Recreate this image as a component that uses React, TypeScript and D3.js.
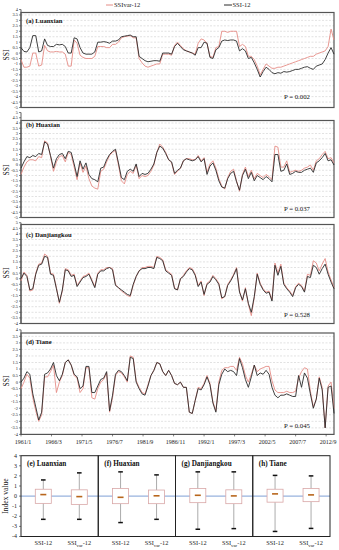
import React from "react";
import * as d3 from "d3";

// ---------- DATA ----------
// Series sampled every 6 months from 1961/1 (index i -> month 6*i)
const STEP_MONTHS = 6;
const TOTAL_MONTHS = 636;

const xTickLabels = ["1961/1", "1966/3", "1971/5", "1976/7", "1981/9", "1986/11", "1992/1", "1997/3", "2002/5", "2007/7", "2012/9"];
const xTickMonths = [0, 62, 124, 186, 248, 310, 372, 434, 496, 558, 620];

const stationNames = ["(a) Luanxian", "(b) Huaxian", "(c) Danjiangkou", "(d) Tiane"];
const pValues = ["P = 0.002", "P = 0.037", "P = 0.528", "P = 0.045"];
const yDomains: [number, number][] = [[-5, 4], [-5, 5], [-4, 5], [-4, 4]];

const luanxianSSI = [0.5, 0.15, 0.1, 0.5, 1.6, 1.6, 0.1, 0.2, 1.3, 0.7, 0.6, 0.6, 0.8, 0.75, 0.8, 0.6, 0.0, 0.0, 1.4, 1.3, 0.5, 0.0, -0.1, -0.1, -0.1, 0.1, 1.0, 1.0, 1.05, 1.0, 0.9, 1.1, 1.1, 1.2, 1.5, 1.55, 1.6, 1.65, 1.5, 1.5, -0.3, -0.5, -0.7, -0.8, -0.75, -0.7, -0.7, -0.75, 0.0, 0.0, 0.0, -0.1, 0.6, 0.9, 0.6, 0.3, 0.2, 0.1, 0.0, -0.2, 0.5, 0.5, 1.0, 0.9, -0.4, -0.5, 0.3, 0.5, 1.1, 1.2, 1.15, 1.2, 1.2, 1.1, 0.2, 0.4, 0.2, -0.5, -0.4, -0.9, -1.5, -2.2, -1.7, -1.3, -1.5, -1.8, -1.9, -1.8, -1.85, -1.7, -1.75, -1.7, -1.6, -1.5, -1.5, -1.4, -1.3, -1.25, -1.4, -1.5, -1.2, -1.1, -1.0, -0.6, 0.0, 0.5, -0.1];
const luanxianSSIvar = [-0.6, -1.3, -1.3, -1.2, 0.0, 0.0, -1.2, -1.1, 0.7, 0.2, 0.1, 0.1, 0.15, 0.1, 0.1, -0.1, -1.2, -1.2, 1.2, 0.9, -0.2, -0.4, -0.5, -0.5, -0.5, -0.3, 0.6, 0.6, 0.6, 0.5, 0.5, 0.8, 0.8, 1.0, 1.4, 1.5, 1.55, 1.6, 1.4, 1.4, -0.5, -0.9, -1.2, -1.3, -1.2, -1.1, -1.0, -1.0, -0.1, -0.1, -0.1, -0.2, 0.7, 1.0, 0.7, 0.4, 0.2, 0.1, 0.0, -0.1, 0.9, 1.3, 1.2, 0.9, -0.3, -0.4, 0.5, 0.6, 2.0, 2.0, 1.9, 2.0, 2.0, 2.0, 0.6, 0.8, 0.6, -0.3, -0.3, -0.6, -1.2, -2.0, -1.5, -1.0, -1.2, -1.4, -1.4, -1.3, -1.3, -1.2, -1.1, -1.0, -0.9, -0.8, -0.7, -0.6, -0.5, -0.4, -0.3, -0.3, -0.1, 0.0, 0.1, 0.2, 0.6, 2.2, 1.2];

const huaxianSSI = [-0.3, 0.3, 0.8, 0.7, 0.9, 0.8, 1.1, 1.0, 2.2, 2.0, 0.9, -0.3, 0.6, 1.0, 1.1, 0.6, 1.3, 1.2, 0.1, -1.1, 0.4, -0.4, 0.2, -0.9, -1.3, -1.4, -1.6, -0.3, -0.2, 0.5, 1.0, 1.3, 1.5, 0.2, -1.2, -1.4, -0.6, -0.4, -0.6, 0.1, -1.1, -0.8, -0.9, -0.8, -0.4, 0.1, 1.2, 1.8, 1.6, 1.1, 0.5, 0.3, -0.8, -0.5, -0.3, 0.4, 0.6, 0.5, 0.4, 0.5, 0.8, 0.3, 0.6, -0.9, -0.1, 0.2, -0.5, -1.5, -2.1, -2.2, -1.3, -0.8, -0.6, -1.6, -2.4, -1.0, -0.4, -1.3, -0.7, -1.5, -1.0, -1.2, -1.4, -1.1, -1.3, -1.6, 1.0, 1.0, -0.6, -0.5, 0.1, -0.9, -0.8, -0.6, -0.7, -0.7, -0.5, -0.4, -0.3, -0.7, 0.2, 0.4, 0.7, 1.1, 0.4, 0.5, 0.0];
const huaxianSSIvar = [-0.9, -0.2, 0.3, 0.5, 0.5, 0.4, 0.8, 0.7, 2.3, 2.1, 0.8, -0.6, 0.3, 0.8, 0.9, 0.3, 1.2, 1.0, -0.2, -1.4, 0.2, -0.7, -0.1, -1.3, -2.0, -2.2, -2.3, -0.6, -0.4, 0.3, 0.9, 1.2, 1.4, 0.0, -1.5, -1.8, -0.9, -0.6, -0.8, 0.0, -1.3, -1.0, -1.1, -1.0, -0.6, 0.0, 1.2, 2.0, 1.7, 1.2, 0.5, 0.2, -0.9, -0.6, -0.3, 0.4, 0.6, 0.6, 0.5, 0.5, 0.9, 0.4, 0.7, -0.7, 0.1, 0.4, -0.3, -1.3, -2.0, -2.3, -1.2, -0.6, -0.4, -1.5, -2.5, -0.9, -0.2, -1.1, -0.5, -1.3, -0.8, -1.0, -1.2, -0.9, -1.1, -1.4, 1.8, 1.7, -0.2, -0.2, 0.4, -0.7, -0.6, -0.5, -0.6, -0.5, -0.3, -0.2, 0.0, -0.5, 0.4, 0.6, 1.0, 1.3, 0.6, 0.7, 0.2];

const danjiangkouSSI = [0.0, 0.5, 0.2, -1.0, -0.9, 0.4, 1.2, 1.3, 2.0, 1.9, 0.4, 0.3, -0.9, -2.1, -1.0, 0.8, 0.7, 0.2, 0.3, -0.7, -0.3, 0.1, 0.2, 0.4, -0.2, -0.8, 0.4, 0.7, 0.7, 0.9, 1.0, 0.8, -0.6, -0.8, -1.0, -1.2, -1.4, -1.5, -0.5, 0.2, 0.7, 0.9, 0.9, 1.0, 1.0, 0.9, 1.9, 1.8, 1.6, 0.7, 0.5, 0.3, -0.9, -1.0, 0.0, 0.2, 0.6, 0.9, 0.8, 0.3, -0.7, -0.3, -1.4, -0.5, -0.3, 0.2, -0.1, -0.5, -1.7, -1.6, -0.6, -0.2, 0.3, 0.9, -1.2, -1.9, -0.9, -2.2, -3.0, -1.6, 0.4, -0.5, -1.0, -1.3, -1.2, -2.0, 1.2, 0.3, 1.1, -0.5, -0.9, -1.2, -1.6, -0.8, -0.5, -0.7, -1.2, 0.2, 0.1, 1.2, 1.0, 0.4, 0.9, 1.3, 0.4, -0.3, -0.9];
const danjiangkouSSIvar = [-0.2, 0.6, 0.3, -1.1, -1.0, 0.5, 1.3, 1.4, 2.2, 2.0, 0.5, 0.4, -0.8, -2.2, -1.1, 0.9, 0.8, 0.3, 0.4, -0.6, -0.2, 0.2, 0.3, 0.5, -0.1, -0.7, 0.5, 0.8, 0.8, 1.0, 1.0, 0.9, -0.5, -0.8, -1.1, -1.3, -1.5, -1.6, -0.6, 0.2, 0.7, 1.0, 1.0, 1.1, 1.1, 1.0, 2.0, 1.9, 1.7, 0.8, 0.6, 0.4, -0.8, -1.0, 0.0, 0.3, 0.7, 1.0, 0.9, 0.4, -0.6, -0.2, -1.5, -0.4, -0.2, 0.3, 0.0, -0.4, -1.8, -1.6, -0.5, -0.1, 0.4, 1.0, -1.1, -2.0, -0.8, -2.3, -3.3, -1.7, 0.5, -0.4, -0.9, -1.2, -1.1, -1.9, 1.4, 0.5, 1.3, -0.4, -0.8, -1.1, -1.5, -0.7, -0.4, -0.6, -1.1, 0.4, 0.3, 1.6, 1.4, 0.7, 1.3, 1.8, 0.6, -0.1, -0.8];

const tianeSSI = [0.0, 0.3, 0.8, 0.6, -0.9, -1.9, -2.9, -2.3, 0.6, 0.7, 1.0, 1.5, 0.5, 0.1, 0.6, 1.5, 1.7, 1.3, 0.6, 0.4, -0.5, -0.3, 1.2, 1.2, -0.8, -0.8, -0.3, 0.2, 0.3, 0.8, -2.2, -1.0, 0.6, 0.9, 0.8, 0.5, 0.1, 1.9, 1.8, 0.0, -0.5, -0.9, -1.0, -0.3, 0.5, 0.9, 1.5, 1.4, 0.8, 0.5, 0.9, 0.5, -0.1, -0.2, 0.0, -0.4, -0.4, -2.3, -2.4, -1.4, -0.5, -0.6, -0.2, 0.4, -0.2, -1.6, -2.3, -0.2, 0.6, 1.0, 0.8, 0.9, 0.8, 0.5, 1.8, 1.1, 0.2, -0.4, 0.4, 1.3, 0.5, 0.7, 0.6, 0.9, 0.6, -0.4, -1.0, -1.2, -1.0, -1.0, -0.9, -1.0, -1.1, -1.1, 0.5, -0.4, 0.7, 0.3, -0.9, -2.0, -1.3, 0.3, -0.6, -3.5, -0.4, -0.3, -2.4];
const tianeSSIvar = [-0.5, 0.0, 0.6, 0.3, -1.2, -2.2, -3.0, -2.5, 0.4, 0.4, 0.8, 1.3, -0.8, 0.0, 0.5, 1.5, 1.7, 1.3, 0.5, 0.3, -0.8, -0.5, 1.1, 1.1, -1.2, -1.3, -0.5, 0.0, 0.2, 0.7, -2.3, -1.2, 0.5, 0.8, 0.7, 0.4, 0.0, 2.0, 1.9, 0.1, -0.4, -0.8, -0.9, -0.2, 0.5, 0.9, 1.5, 1.4, 0.8, 0.5, 0.9, 0.5, -0.1, -0.2, 0.0, -0.4, -0.4, -2.3, -2.4, -1.4, -0.4, -0.5, -0.1, 0.5, -0.1, -1.5, -2.2, 0.0, 0.9, 1.1, 1.1, 1.2, 1.2, 0.9, 1.9, 1.4, 0.5, 0.0, 0.6, 1.3, 0.8, 1.0, 1.1, 1.2, 1.2, 0.1, -0.6, -0.8, -0.8, -0.8, -0.7, -0.8, -0.8, -0.7, 0.3, 0.8, 1.1, 1.0, -0.7, -1.9, -1.3, 0.4, -0.4, -3.5, -0.3, 0.0, -2.0];

const ssiSeries = [luanxianSSI, huaxianSSI, danjiangkouSSI, tianeSSI];
const ssiVarSeries = [luanxianSSIvar, huaxianSSIvar, danjiangkouSSIvar, tianeSSIvar];

// Box plot stats: [min, q1, median, q3, max]
const boxTitles = ["(e) Luanxian", "(f) Huaxian", "(g) Danjiangkou", "(h) Tiane"];
const boxCategories = ["SSI-12", "SSIvar-12"];
const luanxianBoxSSI = [-2.3, -0.72, 0.15, 0.68, 1.6];
const luanxianBoxSSIvar = [-2.3, -0.82, -0.05, 0.62, 2.3];
const huaxianBoxSSI = [-2.62, -0.75, -0.12, 0.75, 2.4];
const huaxianBoxSSIvar = [-2.3, -0.75, 0.03, 0.6, 2.1];
const danjiangkouBoxSSI = [-3.28, -0.65, 0.08, 0.75, 2.4];
const danjiangkouBoxSSIvar = [-3.22, -0.75, 0.02, 0.62, 2.4];
const tianeBoxSSI = [-3.5, -0.6, 0.22, 0.68, 2.05];
const tianeBoxSSIvar = [-3.2, -0.55, 0.12, 0.75, 2.0];
const boxData = [
  [luanxianBoxSSI, luanxianBoxSSIvar],
  [huaxianBoxSSI, huaxianBoxSSIvar],
  [danjiangkouBoxSSI, danjiangkouBoxSSIvar],
  [tianeBoxSSI, tianeBoxSSIvar],
];
const boxYTicks = [4, 3, 2, 1, 0, -1, -2, -3, -4];

// ---------- LAYOUT ----------
const W = 339, H = 550;
const LEFT = 21, RIGHT = 334;
const FONT = "'Liberation Serif', 'Times New Roman', serif";
const PINK = "#e58c86";
const DARK = "#2a2a2a";

const panels = [
  { yTop: 9.5, yBot: 107.5, frameTop: 12.5, titleY: 22.5, pY: 99, ssiY: 55 },
  { yTop: 112.5, yBot: 217.5, frameTop: 120.5, titleY: 127, pY: 211, ssiY: 170 },
  { yTop: 222.7, yBot: 323.5, frameTop: 224.5, titleY: 236.5, pY: 316.5, ssiY: 273 },
  { yTop: 329.8, yBot: 434.4, frameTop: 333, titleY: 343.5, pY: 428, ssiY: 381 },
];

const x = d3.scaleLinear().domain([0, TOTAL_MONTHS]).range([LEFT, RIGHT]);

function fmt(v: number) {
  if (Math.abs(v) < 1e-9) return "0";
  return String(v);
}

function TimePanel({ idx }: { idx: number }) {
  const p = panels[idx];
  const dom = yDomains[idx];
  const y = d3.scaleLinear().domain(dom).range([p.yBot, p.yTop]);
  const ticks = d3.range(dom[0], dom[1] + 0.001, 0.5).map((v) => Math.round(v * 10) / 10);
  const line = d3
    .line<number>()
    .x((_, i) => x(i * STEP_MONTHS))
    .y((d) => y(d));
  return (
    <g>
      {ticks
        .filter((t) => y(t) > p.frameTop + 1 && y(t) < p.yBot - 1)
        .map((t) => (
          <line key={"g" + t} x1={LEFT} x2={RIGHT} y1={y(t)} y2={y(t)} stroke="#c4c4c4" strokeWidth={0.5} strokeDasharray="2,1.5" />
        ))}
      <line x1={LEFT} x2={LEFT} y1={p.yTop} y2={p.yBot} stroke="#333" strokeWidth={0.8} />
      {ticks.map((t) => (
        <g key={"t" + t}>
          <line x1={LEFT - 2} x2={LEFT} y1={y(t)} y2={y(t)} stroke="#333" strokeWidth={0.6} />
          <text x={LEFT - 3} y={y(t)} dy="0.33em" textAnchor="end" fontSize={4.4} fontFamily={FONT} fill="#222">
            {fmt(t)}
          </text>
        </g>
      ))}
      <rect x={LEFT} y={p.frameTop} width={RIGHT - LEFT} height={p.yBot - p.frameTop} fill="none" stroke="#555" strokeWidth={1.2} />
      <path d={line(ssiVarSeries[idx]) || ""} fill="none" stroke={PINK} strokeWidth={0.9} />
      <path d={line(ssiSeries[idx]) || ""} fill="none" stroke={DARK} strokeWidth={0.9} />
      <text x={26} y={p.titleY} fontSize={6.6} fontWeight="bold" fontFamily={FONT} fill="#111">
        {stationNames[idx]}
      </text>
      <text x={310} y={p.pY} textAnchor="end" fontSize={6.8} fontFamily={FONT} fill="#111">
        {pValues[idx]}
      </text>
      <text transform={`translate(8.5,${p.ssiY}) rotate(-90)`} textAnchor="middle" fontSize={7.5} fontFamily={FONT} fill="#111">
        SSI
      </text>
      {idx === 3 &&
        xTickMonths.map((m, i) => (
          <g key={"x" + m}>
            <line x1={x(m)} x2={x(m)} y1={p.yBot} y2={p.yBot + 2} stroke="#333" strokeWidth={0.6} />
            <text x={x(m) + 2} y={p.yBot + 10} textAnchor="middle" fontSize={6} fontFamily={FONT} fill="#222">
              {xTickLabels[i]}
            </text>
          </g>
        ))}
    </g>
  );
}

function BoxSection() {
  const top = 455.7, bot = 536.5, left = 21, right = 330;
  const y = d3.scaleLinear().domain([-4, 4]).range([bot, top]);
  const panelX = d3.scaleBand<number>().domain([0, 1, 2, 3]).range([left, right]).padding(0);
  const bw = panelX.bandwidth();
  const inner = d3.scalePoint<string>().domain(boxCategories).range([22.3, 58.3]);
  const boxW = 16;
  return (
    <g>
      {boxYTicks.map((t) => (
        <g key={"by" + t}>
          <line x1={left - 2} x2={left} y1={y(t)} y2={y(t)} stroke="#333" strokeWidth={0.6} />
          <text x={left - 4} y={y(t)} dy="0.33em" textAnchor="end" fontSize={6} fontFamily={FONT} fill="#222">
            {t}
          </text>
        </g>
      ))}
      <text transform={`translate(7.5,${(top + bot) / 2}) rotate(-90)`} textAnchor="middle" fontSize={7.5} fontFamily={FONT} fill="#111">
        Index value
      </text>
      <line x1={left} x2={right} y1={y(0)} y2={y(0)} stroke="#7f9fd6" strokeWidth={1} />
      {boxData.map((pair, pi) => {
        const px = panelX(pi)!;
        return (
          <g key={"bp" + pi}>
            <rect x={px} y={top} width={bw} height={bot - top} fill="none" stroke="#222" strokeWidth={1} />
            <text x={px + 6} y={top + 10} fontSize={7.2} fontWeight="bold" fontFamily={FONT} fill="#111">
              {boxTitles[pi]}
            </text>
            {pair.map((s, ci) => {
              const cx = px + inner(boxCategories[ci])!;
              const [mn, q1, md, q3, mx] = s;
              return (
                <g key={"b" + ci}>
                  <line x1={cx} x2={cx} y1={y(mx)} y2={y(q3)} stroke="#888" strokeWidth={0.7} />
                  <line x1={cx} x2={cx} y1={y(q1)} y2={y(mn)} stroke="#888" strokeWidth={0.7} />
                  <rect x={cx - boxW / 2} y={y(q3)} width={boxW} height={y(q1) - y(q3)} fill="#fff" stroke="#d9a7a7" strokeWidth={0.8} />
                  <line x1={cx - 3} x2={cx + 3} y1={y(md)} y2={y(md)} stroke="#b8661c" strokeWidth={1.6} />
                  <line x1={cx - 2.3} x2={cx + 2.3} y1={y(mx)} y2={y(mx)} stroke="#111" strokeWidth={1.5} />
                  <line x1={cx - 2.3} x2={cx + 2.3} y1={y(mn)} y2={y(mn)} stroke="#111" strokeWidth={1.5} />
                  <text x={cx} y={545} textAnchor="middle" fontSize={6.3} fontFamily={FONT} fill="#222">
                    {ci === 0 ? (
                      "SSI-12"
                    ) : (
                      <>
                        <tspan>SSI</tspan>
                        <tspan fontSize={4.8} dy={1.5}>var</tspan>
                        <tspan dy={-1.5}>-12</tspan>
                      </>
                    )}
                  </text>
                </g>
              );
            })}
          </g>
        );
      })}
    </g>
  );
}

export default function App() {
  return (
    <svg width={W} height={H} style={{ position: "absolute", left: 0, top: 0, background: "#fff" }}>
      <rect x={0} y={0} width={W} height={H} fill="#fff" />
      <line x1={106} x2={113} y1={5} y2={5} stroke={PINK} strokeWidth={1} />
      <text x={114} y={7.3} fontSize={6.5} fontFamily={FONT} fill="#222">SSIvar-12</text>
      <line x1={224} x2={232} y1={5} y2={5} stroke={DARK} strokeWidth={1} />
      <text x={232.5} y={7.3} fontSize={6.5} fontFamily={FONT} fill="#222">SSI-12</text>
      {[0, 1, 2, 3].map((i) => (
        <TimePanel key={i} idx={i} />
      ))}
      <BoxSection />
    </svg>
  );
}
